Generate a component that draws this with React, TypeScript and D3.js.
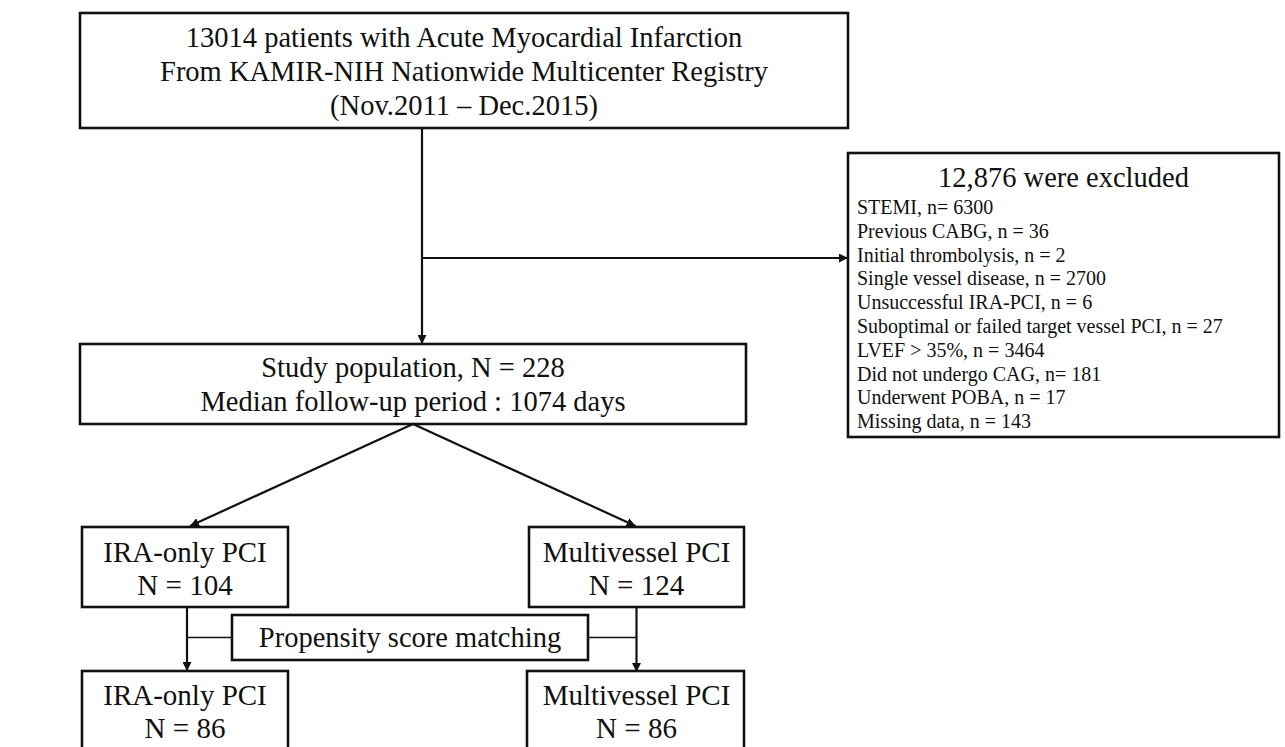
import * as d3 from "d3";
import { useEffect, useRef } from "react";

// chart content
const sourceLines = [
  "13014 patients with Acute Myocardial Infarction",
  "From KAMIR-NIH Nationwide Multicenter Registry",
  "(Nov.2011 – Dec.2015)",
];
const excludedTotal = "12,876";
const exclusionReasons = [
  "STEMI",
  "Previous CABG",
  "Initial thrombolysis",
  "Single vessel disease",
  "Unsuccessful IRA-PCI",
  "Suboptimal or failed target vessel PCI",
  "LVEF > 35%",
  "Did not undergo CAG",
  "Underwent POBA",
  "Missing data",
];
const exclusionCounts = [6300, 36, 2, 2700, 6, 27, 3464, 181, 17, 143];
const exclusionEq = ["n=", "n =", "n =", "n =", "n =", "n =", "n =", "n=", "n =", "n ="];
const studyN = 228;
const medianFollowUp = 1074;
const groups = ["IRA-only PCI", "Multivessel PCI"];
const groupN = [104, 124];
const matchedN = [86, 86];
const matchingLabel = "Propensity score matching";

const W = 1285;
const H = 747;
const FONT = "'Liberation Serif', 'Times New Roman', serif";

export default function App() {
  const ref = useRef<SVGSVGElement | null>(null);

  useEffect(() => {
    const svg = d3.select(ref.current);
    svg.selectAll("*").remove();

    svg
      .append("defs")
      .append("marker")
      .attr("id", "arr")
      .attr("viewBox", "0 0 10 10")
      .attr("refX", 10)
      .attr("refY", 5)
      .attr("markerWidth", 9)
      .attr("markerHeight", 9)
      .attr("markerUnits", "userSpaceOnUse")
      .attr("orient", "auto")
      .append("path")
      .attr("d", "M0,0L10,5L0,10Z")
      .attr("fill", "#111");

    // layout (pixels)
    const x = { topL: 80, topR: 848, studyL: 80, studyR: 746, leftL: 82, leftR: 288, rightL: 529, rightR: 744, exL: 848, exR: 1279, pmL: 232, pmR: 588 };
    const y = { top0: 13, top1: 128, branch: 258, ex0: 153, ex1: 437, study0: 344, study1: 424, g0: 527, g1: 607, pm0: 615, pm1: 660, m0: 671, m1: 760 };
    const spine = 422;
    const leftC = (x.leftL + x.leftR) / 2 + 2;
    const rightC = (x.rightL + x.rightR) / 2;

    const box = (x0: number, y0: number, x1: number, y1: number) =>
      svg
        .append("rect")
        .attr("x", x0)
        .attr("y", y0)
        .attr("width", x1 - x0)
        .attr("height", y1 - y0)
        .attr("fill", "white")
        .attr("stroke", "#111")
        .attr("stroke-width", 2.6);

    const text = (tx: number, ty: number, s: string, size: number, anchor = "middle") =>
      svg
        .append("text")
        .attr("x", tx)
        .attr("y", ty)
        .attr("text-anchor", anchor)
        .attr("font-family", FONT)
        .attr("font-size", size)
        .attr("fill", "#111")
        .text(s);

    const line = (pts: [number, number][], arrow: boolean, w = 2.2) =>
      svg
        .append("path")
        .attr("d", d3.line()(pts))
        .attr("fill", "none")
        .attr("stroke", "#111")
        .attr("stroke-width", w)
        .attr("marker-end", arrow ? "url(#arr)" : null);

    // connectors
    const sc = (x.studyL + x.studyR) / 2;
    line([[spine, y.top1], [spine, y.study0]], true);
    line([[spine, y.branch], [x.exL, y.branch]], true);
    line([[sc, y.study1], [leftC + 3, y.g0 - 1]], true);
    line([[sc, y.study1], [rightC - 1, y.g0 - 1]], true);
    line([[leftC, y.g1], [leftC, y.m0]], true);
    line([[rightC, y.g1], [rightC, y.m0 + 1]], true);
    const pmY = (y.pm0 + y.pm1) / 2;
    line([[leftC, pmY], [x.pmL, pmY]], false, 1.5);
    line([[x.pmR, pmY], [rightC, pmY]], false, 1.5);

    // top box
    box(x.topL, y.top0, x.topR, y.top1);
    sourceLines.forEach((s, i) => text(464, 47 + i * 34, s, 28.5));

    // exclusion box
    box(x.exL, y.ex0, x.exR, y.ex1);
    text((x.exL + x.exR) / 2, 187, `${excludedTotal} were excluded`, 28.5);
    exclusionReasons.forEach((r, i) =>
      text(857, 214 + i * 23.8, `${r}, ${exclusionEq[i]} ${exclusionCounts[i]}`, 20, "start")
    );

    // study population
    box(x.studyL, y.study0, x.studyR, y.study1);
    text(sc, 377, `Study population, N = ${studyN}`, 28.5);
    text(sc, 411, `Median follow-up period : ${medianFollowUp} days`, 28.5);

    // groups before / after matching
    const cols = [
      { l: x.leftL, r: x.leftR },
      { l: x.rightL, r: x.rightR },
    ];
    groups.forEach((g, i) => {
      const c = cols[i];
      const cx = (c.l + c.r) / 2;
      box(c.l, y.g0, c.r, y.g1);
      text(cx, 562, g, 29);
      text(cx, 595, `N = ${groupN[i]}`, 29);
      box(c.l - (i === 1 ? 2 : 0), y.m0, c.r, y.m1);
      text(cx, 705, g, 29);
      text(cx, 738, `N = ${matchedN[i]}`, 29);
    });

    box(x.pmL, y.pm0, x.pmR, y.pm1);
    text((x.pmL + x.pmR) / 2, 647, matchingLabel, 28.5);
  }, []);

  return (
    <div style={{ position: "absolute", left: 0, top: 0, width: W, height: H, background: "white", overflow: "hidden" }}>
      <svg ref={ref} width={W} height={H}></svg>
    </div>
  );
}
